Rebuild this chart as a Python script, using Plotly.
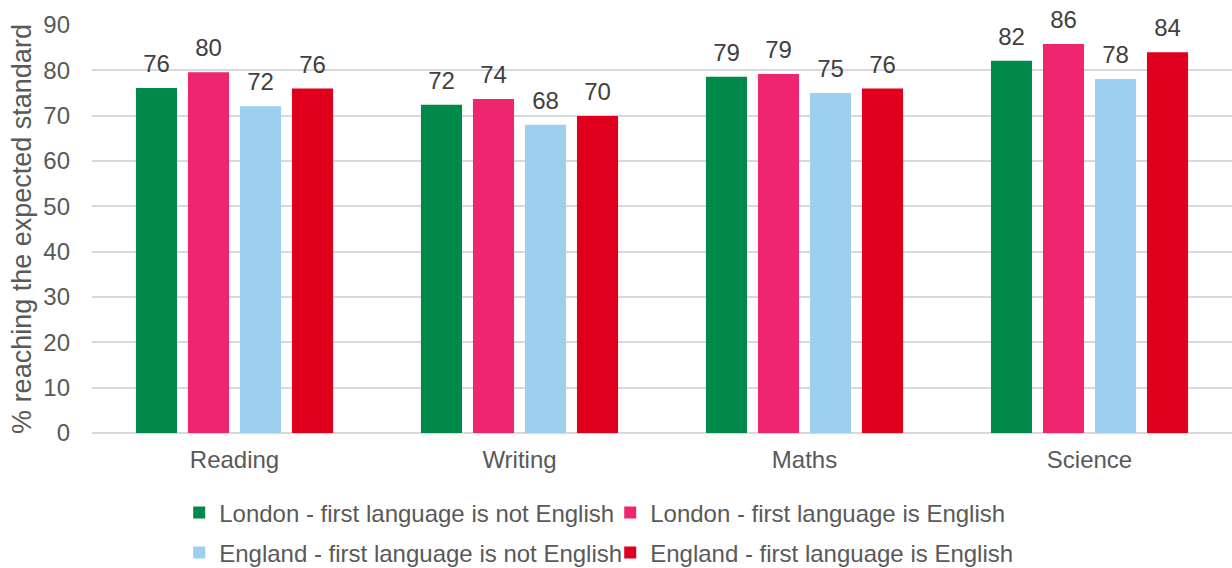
import plotly.graph_objects as go

# Key stage 2 attainment by subject and first language
subjects = ["Reading", "Writing", "Maths", "Science"]
london_not_english = [76.1, 72.4, 78.6, 82.1]
london_english = [79.6, 73.7, 79.2, 85.8]
england_not_english = [72.1, 68.0, 75.0, 78.1]
england_english = [76.0, 69.9, 76.0, 84.0]

series_names = [
    "London - first language is not English",
    "London - first language is English",
    "England - first language is not English",
    "England - first language is English",
]
series_values = [london_not_english, london_english, england_not_english, england_english]
series_colours = ["#00894A", "#EE2670", "#9DD0EE", "#E0001E"]
legend_rows = ["legend", "legend", "legend2", "legend2"]

FONT = "Liberation Sans, Arial, sans-serif"
GREY = "#595959"
GAP = 0.27

fig = go.Figure()
for name, vals, colour, leg in zip(series_names, series_values, series_colours, legend_rows):
    fig.add_trace(go.Bar(
        name=name,
        x=subjects,
        y=vals,
        marker=dict(color=colour, line=dict(width=0)),
        legend=leg,
        hoverinfo="skip",
    ))

# value labels, grouped the same way as the bars so they sit over each one
for name, vals in zip(series_names, series_values):
    fig.add_trace(go.Scatter(
        x=subjects,
        y=vals,
        mode="markers+text",
        marker=dict(size=14, opacity=0),
        text=[f"{round(v)}" for v in vals],
        textposition="top center",
        textfont=dict(size=24, color="#404040", family=FONT),
        showlegend=False,
        cliponaxis=False,
        hoverinfo="skip",
    ))

legend_common = dict(
    orientation="h",
    xref="paper",
    x=0.0765,
    xanchor="left",
    yanchor="middle",
    entrywidth=386,
    entrywidthmode="pixels",
    font=dict(size=24, color=GREY, family=FONT),
    itemwidth=30,
    bgcolor="rgba(0,0,0,0)",
)

fig.update_layout(
    width=1232,
    height=568,
    margin=dict(l=92, r=0, t=25, b=135, autoexpand=False),
    paper_bgcolor="white",
    plot_bgcolor="white",
    barmode="group",
    bargap=GAP,
    bargroupgap=0.21,
    scattermode="group",
    scattergap=GAP,
    font=dict(family=FONT, size=24, color=GREY),
    showlegend=True,
    legend=dict(legend_common, y=-0.196),
    legend2=dict(legend_common, y=-0.294),
)

fig.update_xaxes(
    showgrid=False,
    showline=False,
    ticks="",
    ticklabelstandoff=10,
    tickfont=dict(size=24, color=GREY),
)
fig.update_yaxes(
    range=[0, 90],
    dtick=10,
    showgrid=True,
    gridcolor="#D9D9D9",
    gridwidth=2,
    zeroline=True,
    zerolinecolor="#D9D9D9",
    zerolinewidth=2,
    ticks="",
    ticklabelstandoff=21,
    tickfont=dict(size=24, color=GREY),
    title=dict(text="% reaching the expected standard", font=dict(size=27, color=GREY), standoff=3),
)

fig.write_html("out.html")
